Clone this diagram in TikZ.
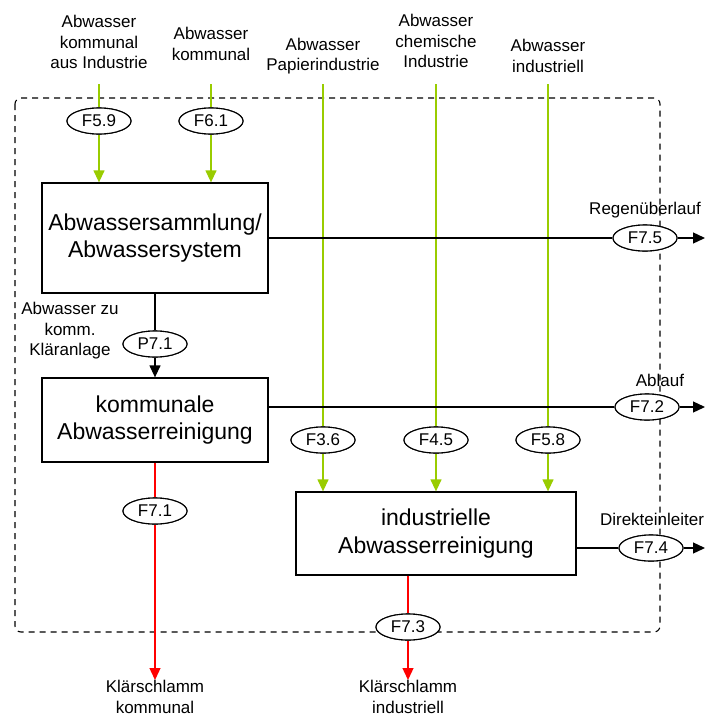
\documentclass[tikz,border=0pt]{standalone}
\usepackage{fontspec}
\setmainfont{Liberation Sans}
\usetikzlibrary{arrows.meta,shapes.geometric}
\definecolor{flowgreen}{HTML}{99CC00}
\definecolor{flowred}{HTML}{FF0000}
\begin{document}
\begin{tikzpicture}[x=1pt,y=-1pt,
  lbl/.style={align=center,font=\fontsize{17}{20.5}\selectfont,inner sep=0pt},
  ell/.style={ellipse,draw,fill=white,line width=1.1pt,minimum width=64pt,minimum height=26pt,inner sep=0pt,font=\fontsize{17}{20}\selectfont},
  proc/.style={draw,line width=1.3pt,fill=white,align=center,font=\fontsize{23}{27.5}\selectfont,inner sep=0pt},
  flow/.style={line width=1.3pt},
  tip/.style={-{Triangle[length=12pt,width=11pt]}},
  gflow/.style={flow,draw=flowgreen},
  rflow/.style={flow,draw=flowred}]
\useasboundingbox (0,0) rectangle (707,718);

% system boundary
\draw[line width=1.1pt,dash pattern=on 6pt off 5pt,rounded corners=6pt] (15,98) rectangle (660,632);

% processes
\node[proc,minimum width=226pt,minimum height=110pt] (sam) at (155,238) {Abwassersammlung/\\Abwassersystem};
\node[proc,minimum width=226pt,minimum height=84pt] (kom) at (155,420) {kommunale\\Abwasserreinigung};
\node[proc,minimum width=280pt,minimum height=83pt] (ind) at (436,533.5) {industrielle\\Abwasserreinigung};

% inflow labels
\node[lbl] (l59) at (99,42) {Abwasser\\kommunal\\aus Industrie};
\node[lbl] (l61) at (211,44) {Abwasser\\kommunal};
\node[lbl] (l36) at (323,56) {Abwasser\\Papierindustrie};
\node[lbl] (l45) at (436,41) {Abwasser\\chemische\\Industrie};
\node[lbl] (l58) at (548,56) {Abwasser\\industriell};

% inflow starts
\coordinate (s59) at (99,84);
\coordinate (s61) at (211,84);
\coordinate (s36) at (323,84);
\coordinate (s45) at (436,84);
\coordinate (s58) at (548,84);

% flow ellipses
\node[ell] (f59) at (99,121) {F5.9};
\node[ell] (f61) at (211,121) {F6.1};
\node[ell] (f36) at (323,440) {F3.6};
\node[ell] (f45) at (436,440) {F4.5};
\node[ell] (f58) at (548,440) {F5.8};
\node[ell] (p71) at (155,344) {P7.1};
\node[ell] (f71) at (155,511) {F7.1};
\node[ell] (f73) at (408,627) {F7.3};
\node[ell] (f75) at (645,238) {F7.5};
\node[ell] (f72) at (647,407) {F7.2};
\node[ell] (f74) at (651,548) {F7.4};

% outflow ends
\coordinate (e75) at (705,238);
\coordinate (e72) at (705,407);
\coordinate (e74) at (705,548);
\coordinate (e71) at (155,680);
\coordinate (e73) at (408,680);

% green inflows
\draw[gflow] (s59) -- (f59);
\draw[gflow,tip,flowgreen] (f59) -- (f59 |- sam.north);
\draw[gflow] (s61) -- (f61);
\draw[gflow,tip,flowgreen] (f61) -- (f61 |- sam.north);
\draw[gflow] (s36) -- (f36);
\draw[gflow,tip,flowgreen] (f36) -- (f36 |- ind.north);
\draw[gflow] (s45) -- (f45);
\draw[gflow,tip,flowgreen] (f45) -- (f45 |- ind.north);
\draw[gflow] (s58) -- (f58);
\draw[gflow,tip,flowgreen] (f58) -- (f58 |- ind.north);

% black flows
\draw[flow] (sam.south) -- (p71);
\draw[flow,tip] (p71) -- (kom.north);
\draw[flow] (sam.east |- f75) -- (f75);
\draw[flow,tip] (f75) -- (e75);
\draw[flow] (kom.east |- f72) -- (f72);
\draw[flow,tip] (f72) -- (e72);
\draw[flow] (ind.east |- f74) -- (f74);
\draw[flow,tip] (f74) -- (e74);

% sludge flows
\draw[rflow] (kom.south) -- (f71);
\draw[rflow,tip,flowred] (f71) -- (e71);
\draw[rflow] (f73 |- ind.south) -- (f73);
\draw[rflow,tip,flowred] (f73) -- (e73);

% redraw ellipses above the crossing lines
\foreach \n/\t in {f59/F5.9,f61/F6.1,f36/F3.6,f45/F4.5,f58/F5.8,p71/P7.1,f71/F7.1,f73/F7.3,f75/F7.5,f72/F7.2,f74/F7.4}
  \node[ell] at (\n) {\t};

% outflow labels
\node[lbl] (lr) at (645,210) {Regenüberlauf};
\node[lbl] (la) at (660,380) {Ablauf};
\node[lbl] (ld) at (652,519) {Direkteinleiter};
\node[lbl] (lp) at (70,331) {Abwasser zu\\komm.\\Kläranlage};
\node[lbl] (lk) at (155,697) {Klärschlamm\\kommunal};
\node[lbl] (li) at (408,697) {Klärschlamm\\industriell};
\end{tikzpicture}
\end{document}
